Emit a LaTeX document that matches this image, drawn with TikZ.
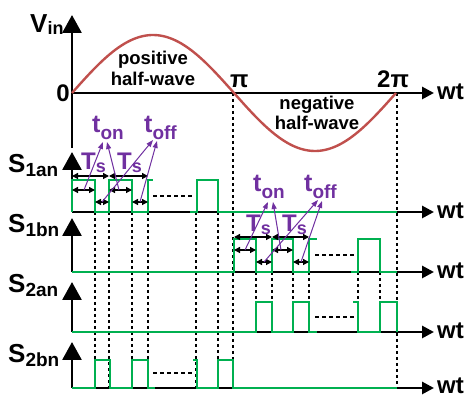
\documentclass[tikz,border=0pt]{standalone}
\usepackage{fontspec}
\setmainfont{Liberation Sans}
\usetikzlibrary{arrows.meta}
\definecolor{sig}{HTML}{00B050}
\definecolor{wave}{HTML}{C0504D}
\definecolor{note}{HTML}{7030A0}
\newcommand\fs[1]{\fontsize{#1pt}{#1pt}\selectfont}
% big letter followed by a lowered, smaller index
\newcommand\twolev[5]{{\fs{#1}#2}\raisebox{-#5pt}{\fs{#3}#4}}

\begin{document}
\begin{tikzpicture}[x=1pt,y=-1pt,font=\bfseries,
  axis/.style={line width=2.8pt,-{Triangle[length=18pt,width=19pt]}},
  taxis/.style={line width=2.8pt,-{Triangle[length=12pt,width=12pt]}},
  signal/.style={sig,line width=2.8pt},
  guide/.style={line width=2.2pt,dash pattern=on 3pt off 3pt},
  skip/.style={line width=2pt,dash pattern=on 4pt off 3pt},
  span/.style={line width=1.3pt,{Triangle[length=6pt,width=6pt]}-{Triangle[length=6pt,width=6pt]}},
  ptr/.style={note,line width=1pt,-{Triangle[length=7pt,width=5pt]}},
  lbl/.style={inner sep=0pt,anchor=base west}]
\useasboundingbox (0,0) rectangle (467,398);

% ---------- vertical guide lines ----------
\foreach \x in {95,109,132,148,196,218}
  \draw[guide] (\x,212) -- (\x,388);
\foreach \x in {256,272,293,309,358,380}
  \draw[guide] (\x,272) -- (\x,332);
\draw[guide] (233,93) -- (233,388);
\draw[guide] (397,93) -- (397,388);

% ---------- axes ----------
\coordinate (o0) at (72,93);
\coordinate (o1) at (72,212);
\coordinate (o2) at (72,272);
\coordinate (o3) at (72,332);
\coordinate (o4) at (72,388);
\draw[axis] (72,148) -- (72,15);
\draw[axis] (o1) -- (72,152);
\draw[axis] (o2) -- (72,218);
\draw[axis] (o3) -- (72,282);
\draw[axis] (o4) -- (72,342);
\foreach \i/\y/\b in {0/93/100,1/212/219,2/272/279,3/332/339,4/388/394}{
  \draw[taxis] (o\i) -- (434,\y);
  \node[lbl] (wt\i) at (437,\b) {\fs{24}wt};
}

% ---------- input voltage ----------
\draw[wave,line width=2.4pt] plot[domain=0:360,samples=120] ({72+0.9*\x},{93-58*sin(\x)});
\node[lbl] (vin) at (30,33) {\twolev{26}{V}{18}{in}{2}};
\node[inner sep=0pt,anchor=base east] (zero) at (70,102) {\fs{24}0};
\node[lbl] (pi1) at (230,88) {\fs{24}π};
\node[lbl] (pi2) at (377,88) {\fs{24}2π};
\node[inner sep=0pt,anchor=base] (pos) at (153,65) {\fs{18.5}positive};
\node[inner sep=0pt,anchor=base] (posb) at (153,86) {\fs{18.5}half-wave};
\node[inner sep=0pt,anchor=base] (neg) at (317,110) {\fs{18.5}negative};
\node[inner sep=0pt,anchor=base] (negb) at (317,130) {\fs{18.5}half-wave};

% ---------- switch labels ----------
\node[lbl] (s1a) at (8,173) {\twolev{26}{S}{19}{1an}{4}};
\node[lbl] (s1b) at (8,233) {\twolev{26}{S}{19}{1bn}{4}};
\node[lbl] (s2a) at (8,293) {\twolev{26}{S}{19}{2an}{4}};
\node[lbl] (s2b) at (8,363) {\twolev{26}{S}{19}{2bn}{4}};

% ---------- gate signals ----------
% S1an
\draw[signal] (72,212) -- (72,180) -- (95,180) -- (95,212) -- (109,212) -- (109,180)
  -- (132,180) -- (132,212) -- (148,212) -- (148,180) -- (153,180);
\draw[signal] (190,212) -- (197,212) -- (197,180) -- (218,180) -- (218,212) -- (397,212);
\draw[skip] (153,196) -- (193,196);
% S1bn
\draw[signal] (72,272) -- (234,272) -- (234,239) -- (256,239) -- (256,272) -- (272,272)
  -- (272,239) -- (293,239) -- (293,272) -- (309,272) -- (309,239) -- (317,239);
\draw[signal] (351,272) -- (358,272) -- (358,239) -- (380,239) -- (380,272) -- (397,272);
\draw[skip] (315,255) -- (355,255);
% S2an
\draw[signal] (72,332) -- (256,332) -- (256,302) -- (272,302) -- (272,332) -- (293,332)
  -- (293,302) -- (309,302) -- (309,332) -- (317,332);
\draw[signal] (353,302) -- (358,302) -- (358,332) -- (380,332) -- (380,302) -- (397,302) -- (397,332);
\draw[skip] (315,317) -- (355,317);
% S2bn
\draw[signal] (72,388) -- (95,388) -- (95,360) -- (110,360) -- (110,388) -- (132,388)
  -- (132,360) -- (148,360) -- (148,388) -- (155,388);
\draw[signal] (193,360) -- (197,360) -- (197,388) -- (218,388) -- (218,360) -- (233,360)
  -- (233,388) -- (397,388);
\draw[skip] (153,373) -- (193,373);

% ---------- period / on / off spans ----------
\draw[span] (72,176) -- (109,176);
\draw[span] (109,176) -- (148,176);
\draw[span] (72,190) -- (95,190);
\draw[span] (109,190) -- (132,190);
\draw[span] (95,202) -- (109,202);
\draw[span] (132,202) -- (148,202);
\draw[span] (234,237) -- (272,237);
\draw[span] (272,237) -- (309,237);
\draw[span] (234,250) -- (256,250);
\draw[span] (272,250) -- (293,250);
\draw[span] (256,262) -- (272,262);
\draw[span] (293,262) -- (309,262);

\coordinate (on1) at (84,190);
\coordinate (on2) at (119,190);
\coordinate (off1) at (102,202);
\coordinate (off2) at (140,202);
\coordinate (on3) at (245,250);
\coordinate (on4) at (281,250);
\coordinate (off3) at (264,262);
\coordinate (off4) at (301,262);

\begin{scope}[note]
\node[lbl] (ts1) at (81,170) {\twolev{24}{T}{18}{s}{3}};
\node[lbl] (ts2) at (117,170) {\twolev{24}{T}{18}{s}{3}};
\node[lbl] (ts3) at (246,232) {\twolev{24}{T}{18}{s}{3}};
\node[lbl] (ts4) at (282,232) {\twolev{24}{T}{18}{s}{3}};
\node[lbl] (ton1) at (92,133) {\twolev{25}{t}{19}{on}{7}};
\node[lbl] (toff1) at (144,133) {\twolev{25}{t}{19}{off}{7}};
\node[lbl] (ton2) at (253,192) {\twolev{25}{t}{19}{on}{7}};
\node[lbl] (toff2) at (304,192) {\twolev{25}{t}{19}{off}{7}};
\end{scope}

\coordinate (ton1a) at (103,142);
\coordinate (ton1b) at (107,142);
\coordinate (toff1a) at (153,140);
\coordinate (toff1b) at (157,141);
\coordinate (ton2a) at (268,202);
\coordinate (ton2b) at (273,202);
\coordinate (toff2a) at (318,200);
\coordinate (toff2b) at (322,201);

\draw[ptr] (on1) -- (ton1a);
\draw[ptr] (on2) -- (ton1b);
\draw[ptr] (off1) -- (toff1a);
\draw[ptr] (off2) -- (toff1b);
\draw[ptr] (on3) -- (ton2a);
\draw[ptr] (on4) -- (ton2b);
\draw[ptr] (off3) -- (toff2a);
\draw[ptr] (off4) -- (toff2b);
\end{tikzpicture}
\end{document}
